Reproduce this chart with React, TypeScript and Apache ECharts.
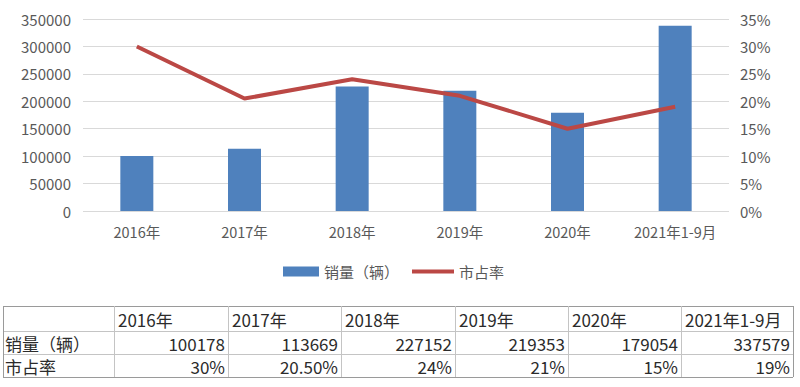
import React, { useEffect, useRef } from 'react';
import * as echarts from 'echarts';

const categories = ['2016年', '2017年', '2018年', '2019年', '2020年', '2021年1-9月'];
const sales = [100178, 113669, 227152, 219353, 179054, 337579];
const share = [30, 20.5, 24, 21, 15, 19];
const shareLabels = ['30%', '20.50%', '24%', '21%', '15%', '19%'];
const rowLabels = ['销量（辆）', '市占率'];
const salesName = '销量（辆）';
const shareName = '市占率';

export default function App() {
  const ref = useRef<HTMLDivElement>(null);
  useEffect(() => {
    const chart = echarts.init(ref.current!, null, { renderer: 'svg' });
    const font = '"Noto Sans CJK SC", "Noto Sans", sans-serif';
    const colX = [3, 114, 228, 341, 455, 568, 681, 793];
    const rowY = [306, 331, 354, 377];
    const g: any[] = [];
    rowY.forEach((y, i) => {
      g.push({
        type: 'line',
        shape: { x1: colX[0], y1: y + 0.5, x2: colX[7], y2: y + 0.5 },
        style: { stroke: i === 0 || i === 3 ? '#9a9a9a' : '#c4c4c4', lineWidth: 1 },
      });
    });
    colX.forEach((x, i) => {
      g.push({
        type: 'line',
        shape: { x1: x + 0.5, y1: rowY[0], x2: x + 0.5, y2: rowY[3] },
        style: { stroke: i === 0 || i === 7 ? '#9a9a9a' : '#c4c4c4', lineWidth: 1 },
      });
    });
    const txt = (text: string, x: number, y: number, align: string) => ({
      type: 'text',
      style: {
        text,
        x,
        y,
        align,
        verticalAlign: 'middle',
        fontSize: 17,
        fontFamily: font,
        fill: '#2b2b2b',
      },
    });
    categories.forEach((c, i) => {
      g.push(txt(c, colX[i + 1] + 4, (rowY[0] + rowY[1]) / 2 + 1, 'left'));
    });
    rowLabels.forEach((r, i) => {
      g.push(txt(r, colX[0] + 2, (rowY[i + 1] + rowY[i + 2]) / 2 + 1, 'left'));
    });
    sales.forEach((v, i) => {
      g.push(txt(String(v), colX[i + 2] - 3, (rowY[1] + rowY[2]) / 2 + 1, 'right'));
    });
    shareLabels.forEach((v, i) => {
      g.push(txt(v, colX[i + 2] - 3, (rowY[2] + rowY[3]) / 2 + 1, 'right'));
    });

    chart.setOption({
      animation: false,
      backgroundColor: '#ffffff',
      textStyle: { fontFamily: font },
      grid: { left: 83, right: 71, top: 19, bottom: 176, containLabel: false },
      legend: [
        {
          data: [{ name: salesName, icon: 'rect' }],
          left: 283,
          top: 264,
          padding: 0,
          itemWidth: 36,
          itemHeight: 10,
          itemGap: 6,
          textStyle: { fontSize: 15, color: '#595959', fontFamily: font },
        },
        {
          data: [{ name: shareName, icon: 'rect' }],
          left: 412,
          top: 264,
          padding: 0,
          itemWidth: 42,
          itemHeight: 4,
          textStyle: { fontSize: 15, color: '#595959', fontFamily: font },
        },
      ],
      xAxis: {
        type: 'category',
        data: categories,
        axisLine: { show: false },
        axisTick: { show: false },
        axisLabel: {
          color: '#595959',
          fontSize: 14.5,
          margin: 13,
          interval: 0,
          hideOverlap: false,
          fontFamily: font,
        },
      },
      yAxis: [
        {
          type: 'value',
          min: 0,
          max: 350000,
          interval: 50000,
          axisLine: { show: false },
          axisTick: { show: false },
          axisLabel: {
            color: '#595959',
            fontSize: 15,
            margin: 12,
            fontFamily: font,
            formatter: (v: number) => String(v),
          },
          splitLine: { lineStyle: { color: '#d9d9d9', width: 1 } },
        },
        {
          type: 'value',
          min: 0,
          max: 35,
          interval: 5,
          axisLine: { show: false },
          axisTick: { show: false },
          axisLabel: { color: '#595959', fontSize: 15, margin: 11, formatter: '{value}%', fontFamily: font },
          splitLine: { show: false },
        },
      ],
      series: [
        {
          name: salesName,
          type: 'bar',
          data: sales,
          barWidth: 33,
          itemStyle: { color: '#4F81BD' },
        },
        {
          name: shareName,
          type: 'line',
          yAxisIndex: 1,
          data: share,
          symbol: 'none',
          lineStyle: { color: '#BB4845', width: 4 },
          itemStyle: { color: '#BB4845' },
        },
      ],
      graphic: g,
    });
    return () => chart.dispose();
  }, []);
  return (
    <div
      ref={ref}
      style={{ position: 'fixed', left: 0, top: 0, width: 800, height: 387 }}
    />
  );
}
